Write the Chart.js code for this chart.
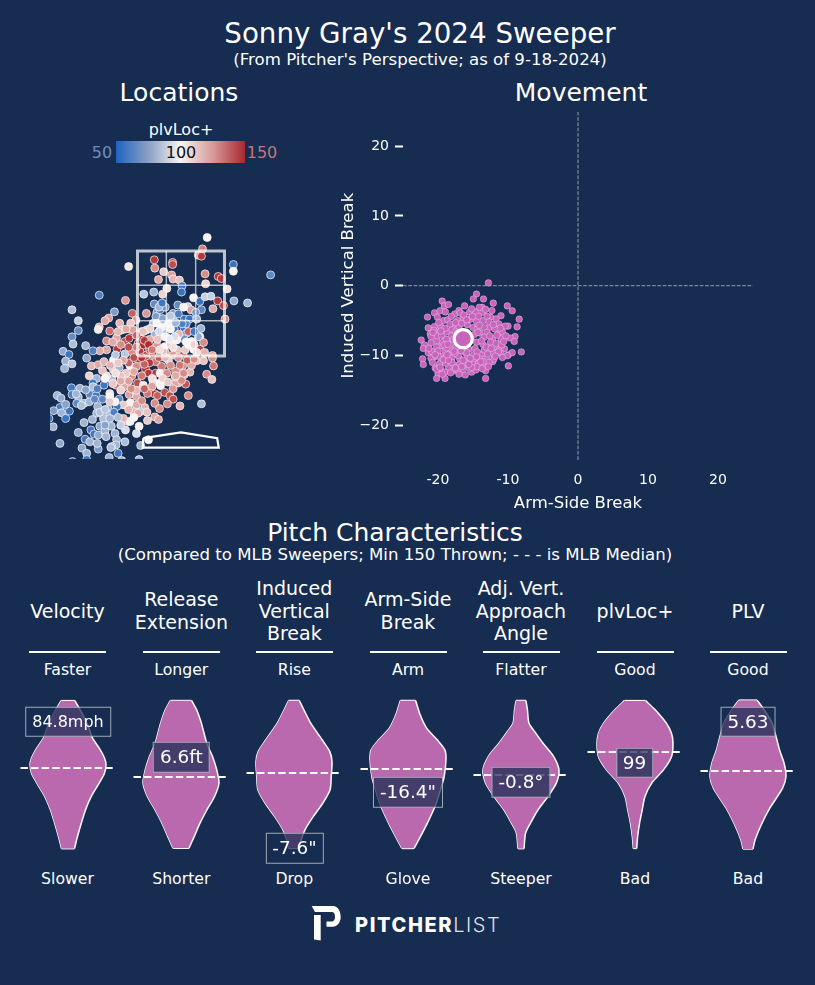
<!DOCTYPE html>
<html><head><meta charset="utf-8">
<script src="https://cdn.jsdelivr.net/npm/chart.js@4"></script>
<style>
html,body{margin:0;padding:0;background:#162c50;width:815px;height:985px;overflow:hidden;font-family:"DejaVu Sans",sans-serif;color:#fff}
.t{position:absolute;transform:translate(-50%,-50%);white-space:nowrap;text-align:center;line-height:1.2}
canvas{position:absolute}
.box{position:absolute;transform:translate(-50%,-50%);box-sizing:border-box;height:30.5px;line-height:27px;padding:0 6px;border:1.5px solid rgba(255,255,255,.6);background:rgba(22,44,80,.72);white-space:nowrap;text-align:center;font-size:18.4px}
.rule{position:absolute;height:2px;background:#fff;width:77px}
</style></head><body>
<div class="t" style="left:420px;top:33.500px;font-size:27.7px">Sonny Gray's 2024 Sweeper</div>
<div class="t" style="left:420px;top:60px;font-size:16.6px">(From Pitcher's Perspective; as of 9-18-2024)</div>
<div class="t" style="left:179px;top:93px;font-size:25px">Locations</div>
<div class="t" style="left:581px;top:93px;font-size:25px">Movement</div>
<div class="t" style="left:181px;top:129.500px;font-size:16px">plvLoc+</div>
<div style="position:absolute;left:116px;top:141px;width:129px;height:22px;background:linear-gradient(90deg,#1e64c0 0%,#8aa0c4 25%,#f7f3f3 50%,#d89a9a 75%,#a8282e 100%)"></div>
<div class="t" style="left:102px;top:152.500px;font-size:16px;color:#6f8fbd">50</div>
<div class="t" style="left:181px;top:152.500px;font-size:16px;color:#111">100</div>
<div class="t" style="left:262px;top:152.500px;font-size:16px;color:#c07878">150</div>
<div class="t" style="left:395px;top:533px;font-size:25px">Pitch Characteristics</div>
<div class="t" style="left:395px;top:555px;font-size:16.6px">(Compared to MLB Sweepers; Min 150 Thrown; - - - is MLB Median)</div>
<canvas id="loc" width="262" height="350" style="left:50px;top:109px"></canvas>
<canvas id="mov" width="440" height="419" style="left:330px;top:97px"></canvas>
<svg style="position:absolute;left:310px;top:903px" width="34" height="40" viewBox="0 0 34 40"><path fill="#fff" d="M1.700 3H23C28 3 30.700 8.500 30.700 14C30.700 19.500 27 23.700 23 23.700H16.500V18.500H22C24 18.500 25 16 25 14C25 11 24 9 22 9H5Z"/><path fill="#fff" d="M4 12H10.700V37.500L4 36.500Z"/></svg>
<div style="position:absolute;left:355px;top:912px;font-family:Inter,sans-serif;font-size:20px;line-height:26px;white-space:nowrap"><span style="font-weight:800;letter-spacing:1.6px">PITCHER</span><span style="font-weight:300;color:#e0e4ea;letter-spacing:1.6px">LIST</span></div>
<script>
const locX=[.50,.41,.33,.39,-.51,-.50,-.16,-.16,-1.0,1.0,1.0,1.71,-.33,-.18,.46,.71,.77,-.43,-.15,-.03,.02,.01,.47,-.27,.88,-.52,-.71,-.35,-1.56,-1.06,-.51,-.06,.24,.36,.46,.57,.70,.81,1.01,1.27,.61,.39,.13,.19,.84,-2.08,-1.96,-1.96,-2.08,-2.06,-2.25,
-1.27,-1.38,-1.45,-1.56,-1.58,-.93,-.66,-.86,-.46,-.40,-.48,-.53,-.15,-.15,.06,.16,.30,-.05,-.27,-.13,.06,.11,.06,.38,.36,.33,.14,-.04,-.34,-.27,-.50,-1.36,-1.17,-1.13,-.96,-.96,-1.42,-1.23,-1.07,-.99,-.78,-.82,-.72,-1.22,-1.42,-1.55,-1.68,-1.82,-2.14,-2.20,-2.08,-2.22,-1.80,-1.07,-.94,-.78,-.66,-.53,-.46,-.66,-.59,-.75,-.91,-.31,-.31,-.21,-.08,-.15,.04,.08,.24,.36,.43,.20,-.08,-.37,-.24,-.46,
-1.71,-1.58,-1.47,-1.29,-1.29,-1.18,-.97,-.82,-.67,-.48,-.24,-.37,-.68,-.62,-.48,-.40,-.27,-.10,.03,.17,.06,.30,.43,.60,.60,.62,.49,.59,.09,-.05,-.10,.01,-.11,-1.75,-1.61,-1.47,-1.68,-2.09,-1.93,-2.08,-2.36,-2.29,-1.96,-1.74,-1.62,-1.82,-1.68,-1.36,-1.32,-1.24,-1.08,-1.10,-.94,-.83,-.72,-.53,-.40,-.39,-.59,-.50,-.64,-.31,-.21,-.15,.14,-.02,-.26,-.50,-.41,.39,-1.18,-.99,-1.36,-.85,-.97,-.69,-.85,-1.10,-1.22,-1.26,-1.36,
-1.99,-1.85,-1.90,-2.31,-2.13,-2.43,-2.28,-2.20,-2.44,-2.52,-1.59,-1.61,-1.39,-1.36,-1.28,-1.69,-1.48,-1.36,-1.33,-1.55,-1.01,-.97,-.78,-.91,-.82,-.64,-.50,-.43,-1.10,-.80,-1.06,-.85,-1.96,-1.72,-1.66,-1.83,-1.74,-1.58,-1.45,-1.43,-1.26,-1.23,-1.24,-1.07,-2.31,-1.89,-1.80,-1.80,-1.58,-1.32,-1.34,-1.20,-1.37,-1.13,-2.07,-.80,-.77,-.62,
-.6,-.7,-.85,-.9,-1.05,-.75,-.55,-.35,-.25,-1.15,-1.0,-.6,-.85,-1.15,-1.0,-.45,-.15,-.05,.2,.05,-.15,-.85,-1.15,-1.25,-1.42,-1.5,-.6,-.2,-.12,.25,.1,-.2,.15,.3,-.3,-.42,-.72,-1.0,-1.25,-1.6,-1.5,-1.75,-1.55,-1.45,
-1.3,-1.2,-1.05,-.85,-.7,-.62,-.55,-.4,-.3,-.2,-.1,-.75,-.9,-1.1,-1.2,-1.35,-1.45,-1.3,-1.15,-.95,-.7,-.55,-.45,-.75,-1.0,-.65,-.9,-1.2,-1.45,-1.65,-2.0,-2.2,-1.85,-1.6,-1.15,.1,.25,.45,.12,-.02,.25,.02,-.1,-.35,-.42,-.22,.28,.05,-.3,-.42,-.36];
const locZ=[3.76,3.54,3.42,3.40,3.33,3.17,3.28,3.24,3.20,3.24,3.11,3.04,3.10,3.04,3.06,3.01,2.97,2.95,2.96,2.94,2.83,2.71,2.87,2.78,2.77,2.71,2.67,2.67,2.65,2.55,2.48,2.46,2.60,2.53,2.62,2.63,2.54,2.45,2.54,2.50,2.39,2.37,2.43,2.37,2.19,2.37,2.16,1.97,1.85,1.71,1.57,
2.33,2.21,2.16,2.04,1.99,2.30,2.30,2.17,2.32,2.37,2.24,2.11,2.30,2.19,2.19,2.19,2.19,2.29,2.04,2.0,2.01,1.92,1.81,2.01,1.85,1.85,1.95,1.90,1.93,1.84,1.90,1.96,2.11,1.98,2.11,1.99,1.77,1.83,1.76,1.82,1.82,1.72,1.69,1.61,1.60,1.58,1.58,1.68,1.51,1.38,1.33,1.24,1.44,1.52,1.56,1.56,1.50,1.50,1.68,1.98,2.01,1.95,1.98,1.85,1.66,1.72,1.60,1.50,1.50,1.60,1.61,1.61,1.74,1.76,1.79,2.04,2.11,2.11,
1.29,1.31,1.37,1.40,1.22,1.26,1.29,1.42,1.42,1.37,1.40,1.28,1.24,1.15,1.15,1.15,1.15,1.19,1.29,1.17,1.12,1.39,1.39,1.49,1.44,1.29,1.13,1.03,.94,.96,.96,1.01,1.08,1.10,1.05,.92,.96,.87,.86,.74,.72,.67,.69,.74,.72,.83,.89,.76,1.03,.92,.89,1.03,1.10,.96,.92,.99,.96,.91,.81,.75,.76,.78,.72,.65,.72,.52,.56,.57,.47,.56,.65,.74,.70,.70,.58,.49,.54,.54,.51,.60,.60,
.57,.57,.53,.49,.42,.43,.39,.28,.12,.28,.51,.38,.46,.35,.40,.26,.28,.28,.13,.13,.22,.22,.41,.41,.38,.24,.31,.26,.28,.13,.06,-.01,.01,.06,-.02,-.12,-.17,-.04,.04,-.07,-.01,-.13,-.23,-.17,-.20,-.29,-.39,-.51,-.31,-.26,-.28,-.39,-.47,-.53,-.55,-.51,-.24,-.13,
1.35,1.32,1.28,1.18,1.15,1.1,1.05,1.05,.98,1.1,1.0,1.6,1.65,1.7,1.65,1.8,1.65,1.45,1.3,1.15,.85,.82,.82,1.15,1.1,1.2,1.8,2.0,1.85,1.95,2.1,2.25,1.7,1.55,1.55,1.45,1.95,1.35,1.5,.85,.65,.6,.4,.15,
1.75,1.95,2.0,1.88,1.78,1.7,1.6,1.6,1.45,1.3,1.1,1.45,1.45,1.4,1.35,1.3,1.05,.95,1.0,.85,.85,.9,.72,.62,.45,.4,.3,.3,.45,.65,.75,.55,.2,-.2,.15,1.75,1.7,1.55,1.4,1.3,1.42,2.1,2.12,2.2,1.95,1.8,2.32,2.42,2.42,2.42,2.5];
const locPlv=[100,128,118,145,145,125,140,140,103,58,100,70,110,120,125,145,145,118,115,112,60,58,108,105,105,85,90,108,65,122,72,70,100,58,92,92,145,142,82,85,118,70,92,120,125,88,92,72,72,88,82,
78,120,118,115,102,135,122,120,78,60,78,88,78,85,58,58,85,65,58,60,60,60,75,85,100,82,135,115,85,90,85,132,115,112,110,122,125,118,140,145,148,145,148,145,118,118,65,85,60,85,90,85,82,90,125,145,140,140,122,110,108,115,120,100,100,110,112,120,140,110,100,142,125,100,100,100,100,100,
115,118,115,100,110,85,100,145,140,130,110,130,148,145,145,100,125,125,125,115,118,112,112,118,125,130,125,112,138,118,118,125,120,108,85,60,60,62,85,65,85,82,85,70,60,80,88,105,88,130,118,115,125,140,102,108,100,100,145,145,130,140,140,140,125,115,125,125,125,88,70,120,100,118,100,115,118,110,60,100,110,
70,85,88,62,60,78,85,60,85,60,85,85,82,85,65,85,88,85,85,82,115,100,90,115,118,110,118,118,115,100,95,95,82,62,60,62,85,82,85,85,85,85,85,88,82,82,85,60,78,82,88,60,85,85,60,85,85,100,
145,135,125,118,110,130,105,108,110,112,120,135,130,125,140,112,105,125,118,125,122,115,108,105,105,112,118,100,95,60,70,90,100,105,118,138,112,135,90,65,70,85,88,80,
118,115,118,135,145,148,130,105,115,125,118,148,140,118,110,115,100,110,118,125,135,120,135,125,115,112,100,88,90,70,85,80,85,85,92,100,108,115,135,130,125,65,85,80,95,98,78,100,75,85,60];
const zoneBoxX=[-.83,.83,.83,-.83,-.83];
const zoneBoxZ=[1.48,1.48,3.5,3.5,1.48];
const zoneGridX=[-.28,-.28,null,.28,.28,null,-.83,.83,null,-.83,.83];
const zoneGridZ=[1.48,3.5,null,1.48,3.5,null,2.84,2.84,null,2.16,2.16];
const plateX=[-.72,0,.69,.72,-.73,-.72];
const plateZ=[-.10,.01,-.10,-.28,-.28,-.10];

const moveX=[-12.8,-14.5,-14.95,-13.5,-12.1,-19.4,-19.1,-18.5,-16.2,-10.1,-9.4,-13.7,-20.5,-21.5,-19.7,-18.95,-17.6,-17,-15.5,-14.6,-13.6,-12.3,-11,-8.4,-11.7,-12.5,-13.5,-14.5,-15.8,-16.4,-17.8,-19.2,-20.1,-21.4,-20.5,-19.6,-21.1,-21,-18.7,-20,-19,-20.2,-22.4,-21.95,-22.1,-21.4,-20.9,-19.5,-20.2,-18.3,-19,-20.5,-19.3,-22.2,-22.1,-20.4,-19.5,-19.7,-18.5,-17.6,-17.8,-20,-20.2,-19,-16.1,-15.2,-14.6,-15.8,-15,-16.9,-16.1,-17.6,-13.8,-12.8,-11.95,-11.5,-10.5,-9.95,-9.4,-8.1,-10.1,-12.2,-13.3,-13.2,-13.2,-9.95,-8.7,-10,-10.4,-11.4,-12.2,-12.7,-13.4,-14,-9,-9.7,-9.1,
-16.8,-15.2,-14.1,-13,-18.6,-17.2,-15.4,-14.2,-12.7,-11.3,-20.6,-19,-18,-17,-15,-14.4,-13,-11.9,-10.8,-20.1,-19.5,-18.1,-17.5,-14.8,-13.4,-12.6,-11,-10.3,-21,-19.3,-18.4,-17.9,-14.5,-13.6,-12.5,-11.7,-10.9,-21.3,-20,-18.8,-17.9,-16.5,-15.6,-14.7,-13.4,-12.2,-11,-21,-20,-18.9,-18,-17.1,-15.8,-14.9,-14,-13,-12,-10.8,-20.8,-19.8,-18.9,-18,-16.9,-16.1,-15,-14.2,-13.5,-20.2,-19,-18.2,-17.2,-16.4,-15.5,-14.4,-19.4,-17,
-18.1,-16.3,-15.1,-13.2,-19.9,-18.3,-17.5,-16.6,-15.9,-14.1,-12.1,-11.1,-19.6,-18.8,-17.2,-14.3,-13.8,-11.6,-10.6,-20.7,-19.1,-17.8,-15.3,-13.1,-12.4,-11.3,-18.6,-17.4,-15.9,-14.4,-12.9,-11.4,-20.4,-19.2,-17.6,-16.7,-15.4,-13.9,-12.7,-11.8,-19.7,-18.5,-17.5,-16.4,-15.2,-13.7,-12.8,-18.7,-17.7,-16.6,-15.6,-14.5];
const moveY=[.4,-1.2,-1.9,-1.9,-2.5,-2.2,-2.9,-2.7,-2.9,-2.9,-3.6,-3.1,-3.9,-4.5,-3.6,-3.76,-4.05,-3.57,-3.8,-3.76,-3.8,-3.57,-4.3,-4.8,-4.76,-4.5,-5,-5.15,-5.6,-4.6,-5.6,-5,-4.5,-6.05,-5.86,-5.86,-6.9,-7.3,-6.6,-6.7,-7.6,-7.9,-7.8,-8.5,-9,-9.6,-9.4,-8.6,-8.8,-9.8,-9.3,-10.2,-10.1,-10.5,-11.3,-11.8,-10.7,-11.9,-11.8,-11.4,-12.2,-12.6,-13.3,-13.3,-12.8,-12.4,-12.1,-11.3,-10.7,-10.5,-9.6,-9.3,-9.8,-8.8,-9.9,-9.05,-9.05,-9.9,-9.6,-9.5,-10.05,-10.9,-11.7,-12.2,-13.3,-11.5,-5.9,-5.8,-5.8,-7,-7.6,-6,-6,-6.8,-7.3,-7.5,-8,
-3.9,-3.3,-3.1,-4.4,-4.9,-5,-4.8,-4.4,-5.2,-5.5,-6.4,-6.1,-6.3,-5.9,-6,-6.2,-6.7,-6.2,-6.6,-7.2,-7.1,-7.2,-6.6,-7,-7.4,-7.2,-7.6,-7.2,-8.2,-8.1,-8,-8.3,-8.1,-8.4,-8.1,-8.3,-8.5,-9,-9.4,-8.9,-9.2,-8.8,-9.1,-9,-9.2,-9.6,-9.7,-10.4,-10.1,-10.3,-10.4,-10,-10.1,-9.9,-10.5,-10.3,-10.5,-10.3,-11,-11.2,-11.1,-11,-11.3,-11,-11.3,-11.1,-10.9,-12,-12.4,-12.5,-12.1,-12,-11.9,-11.6,-12.7,-12.7,
-4.4,-4.2,-4.4,-3.4,-5.3,-5.5,-5.3,-5.4,-4.9,-5.7,-5.6,-6.1,-6.5,-7.7,-6.8,-6.7,-7.9,-7.1,-8,-6.7,-8.5,-7.7,-7.6,-8.8,-9,-9.3,-8.4,-8.8,-9.6,-9.5,-9.8,-9.5,-9.9,-10.6,-9.7,-9.3,-10.4,-10.9,-11,-10.1,-11.7,-10.7,-11.8,-10.7,-11.7,-11.9,-11.6,-9.9,-9.4,-11.6,-11.3,-10.2];
const moveMeanX=[-16.4];
const moveMeanY=[-7.6];
const moveTicksX=[-20,-10,0,10,20];
const moveTicksY=[-20,-10,0,10,20];
const zeroSpan=[-25,25];

const metricNames=[["Velocity"],["Release","Extension"],["Induced","Vertical","Break"],["Arm-Side","Break"],["Adj. Vert.","Approach","Angle"],["plvLoc+"],["PLV"]];
const upLabels=["Faster","Longer","Rise","Arm","Flatter","Good","Good"];
const downLabels=["Slower","Shorter","Drop","Glove","Steeper","Bad","Bad"];
const pitchLabels=["84.8mph","6.6ft","-7.6\"","-16.4\"","-0.8°","99","5.63"];
const pitchValues=[84.8,6.6,-7.6,-16.4,-0.8,99,5.63];
const leagueMedians=[82.0,6.30,0.5,-13.0,-0.6,102,5.0];
const veloValues=[86.1,85.54,84.73,83.85,83.1,82.6,82.19,81.68,81.07,80.25,79.44,78.63,77.82,77.08];
const veloDensity=[.18,.32,.5,.64,.85,.96,1,.96,.82,.61,.46,.35,.25,.17];
const extValues=[7.46,7.31,7.11,6.81,6.61,6.41,6.21,6.0,5.8,5.6,5.4,5.22];
const extDensity=[.28,.42,.54,.68,.83,.94,1,.88,.68,.5,.35,.21];
const ivbValues=[8.33,7.32,5.88,4.09,2.83,1.75,.13,-1.31,-2.75,-4.19,-5.63,-6.71,-7.64];
const ivbDensity=[.14,.26,.44,.74,.94,1,.98,.95,.76,.51,.29,.19,.14];
const armValues=[-2.94,-5.05,-7.01,-8.73,-10.2,-11.67,-14.2,-15.59,-18.28,-20.98,-22.94,-24.7];
const armDensity=[.2,.32,.49,.77,.97,1,.95,.88,.73,.51,.33,.16];
const vaaValues=[1.53,1.26,.88,.64,.31,-.07,-.45,-.83,-1.21,-1.59,-1.97,-2.26,-2.7];
const vaaDensity=[.13,.17,.21,.36,.58,.86,1,.93,.71,.45,.25,.12,.08];
const locPlusValues=[116,113.5,109.8,107.1,104.4,100.7,97.1,93.5,89.8,86.2,82.6,78.9,75.7];
const locPlusDensity=[.28,.53,.83,.96,1,.96,.75,.44,.26,.19,.12,.07,.045];
const plvValues=[5.91,5.79,5.62,5.42,5.27,5.1,4.93,4.78,4.52,4.31,4.12,4.0];
const plvDensity=[.24,.42,.63,.75,.83,.95,1,.91,.57,.35,.19,.13];
const violinValues=[veloValues,extValues,ivbValues,armValues,vaaValues,locPlusValues,plvValues];
const violinDensity=[veloDensity,extDensity,ivbDensity,armDensity,vaaDensity,locPlusDensity,plvDensity];
const axisTop=[86.75,7.62,9.46,-1.4,1.83,118.9,6.04];
const axisBottom=[75.78,4.89,-9.97,-27.87,-3.31,69.8,3.73];
const columnCenters=[67.5,181.3,294.3,408,521,635,748];
const boxCenters=[68,181.3,294.5,408,521,634.5,748];

Chart.defaults.font.family='"DejaVu Sans",sans-serif';
Chart.defaults.animation=false;
const noPlugins={legend:{display:false},tooltip:{enabled:false}};

const colorStops=[[50,[30,100,192]],[75,[110,145,195]],[90,[185,198,222]],[100,[247,243,243]],[125,[215,140,135]],[150,[168,36,42]]];
function plvColor(v){
  v=Math.max(50,Math.min(150,v));
  for(let k=1;k<colorStops.length;k++){
    if(v<=colorStops[k][0]){
      const t=(v-colorStops[k-1][0])/(colorStops[k][0]-colorStops[k-1][0]);
      const a=colorStops[k-1][1],b=colorStops[k][1];
      return `rgb(${a.map((c,i)=>Math.round(c+(b[i]-c)*t)).join(',')})`;
    }
  }
}
function xy(xs,ys){return xs.map((x,i)=>({x:x,y:ys[i]}));}

new Chart(document.getElementById('loc'),{type:'scatter',data:{datasets:[
  {data:xy(zoneBoxX,zoneBoxZ),showLine:true,pointRadius:0,borderColor:'rgba(255,255,255,.72)',borderWidth:3,order:0,clip:0},
  {data:xy(zoneGridX,zoneGridZ),showLine:true,spanGaps:false,pointRadius:0,borderColor:'rgba(255,255,255,.65)',borderWidth:1.5,order:0,clip:0},
  {data:xy(plateX,plateZ),showLine:true,pointRadius:0,borderColor:'#fff',borderWidth:2.2,order:0,clip:0},
  {data:xy(locX,locZ),pointRadius:4,pointBorderWidth:.8,pointBackgroundColor:locPlv.map(plvColor),pointBorderColor:'rgba(255,255,255,.85)',order:1,clip:0}
]},options:{responsive:false,layout:{padding:0,autoPadding:false},plugins:noPlugins,scales:{
  x:{type:'linear',display:false,min:-2.5,max:2.5},
  y:{type:'linear',display:false,min:-.5,max:6.23}
}}});

new Chart(document.getElementById('mov'),{type:'scatter',data:{datasets:[
  {data:xy(moveMeanX,moveMeanY),pointRadius:9,pointBorderWidth:3.2,pointBackgroundColor:'#c864bc',pointBorderColor:'#fff',order:0},
  {data:xy(moveX,moveY),pointRadius:3.3,pointBorderWidth:.7,pointBackgroundColor:'#c864bc',pointBorderColor:'rgba(255,255,255,.45)',order:1},
  {data:xy(zeroSpan,[0,0]),showLine:true,pointRadius:0,borderColor:'rgba(255,255,255,.55)',borderWidth:1,borderDash:[3.7,1.6],order:2},
  {data:xy([0,0],zeroSpan),showLine:true,pointRadius:0,borderColor:'rgba(255,255,255,.55)',borderWidth:1,borderDash:[3.7,1.6],order:2}
]},options:{responsive:false,layout:{autoPadding:false,padding:{top:6.5,right:17,left:0,bottom:0}},plugins:noPlugins,scales:{
  x:{type:'linear',min:-25,max:25,grid:{display:false},border:{display:false},
     afterBuildTicks:s=>{s.ticks=moveTicksX.map(v=>({value:v}));},afterFit:s=>{s.height=56;},
     ticks:{color:'#fff',font:{size:14},padding:4,maxRotation:0,callback:v=>String(v)},
     title:{display:true,text:'Arm-Side Break',color:'#fff',font:{size:16.5},padding:{top:2,bottom:2}}},
  y:{type:'linear',min:-25,max:25,border:{display:false},
     grid:{drawOnChartArea:false,drawTicks:true,tickColor:'#fff',tickWidth:2,tickLength:8},
     afterBuildTicks:s=>{s.ticks=moveTicksY.map(v=>({value:v}));},afterFit:s=>{s.width=73;},
     ticks:{color:'#fff',font:{size:14},padding:6,callback:v=>String(v).replace('-','\u2212')},
     title:{display:true,text:'Induced Vertical Break',color:'#fff',font:{size:16.5},padding:{top:9,bottom:0}}}
}}});

metricNames.forEach((lines,i)=>{
  const cx=columnCenters[i];
  const head=document.createElement('div');head.className='t';
  head.style.cssText=`left:${cx}px;top:611px;font-size:19px;line-height:22.6px`;
  head.innerHTML=lines.join('<br>');document.body.appendChild(head);
  const rule=document.createElement('div');rule.className='rule';
  rule.style.left=(cx-38.5)+'px';rule.style.top='651px';document.body.appendChild(rule);
  const up=document.createElement('div');up.className='t';
  up.style.cssText=`left:${cx}px;top:669.5px;font-size:15.7px`;up.textContent=upLabels[i];document.body.appendChild(up);
  const dn=document.createElement('div');dn.className='t';
  dn.style.cssText=`left:${cx}px;top:878.5px;font-size:15.7px`;dn.textContent=downLabels[i];document.body.appendChild(dn);

  const cv=document.createElement('canvas');cv.width=114;cv.height=180;
  cv.style.left=(cx-57)+'px';cv.style.top='690px';document.body.appendChild(cv);
  const vals=violinValues[i].slice().reverse(),dens=violinDensity[i].slice().reverse();
  const right=vals.map((v,k)=>({x:dens[k],y:v})),left=vals.map((v,k)=>({x:-dens[k],y:v}));
  const n=vals.length-1;
  const edge={borderColor:'#fff',borderWidth:1.5,pointRadius:0,tension:.25,order:2};
  const chart=new Chart(cv,{type:'line',data:{datasets:[
    Object.assign({data:right,fill:'+1',backgroundColor:'#ba69af'},edge),
    Object.assign({data:left,fill:false},edge),
    {data:[{x:-dens[n],y:vals[n]},{x:dens[n],y:vals[n]}],borderColor:'#fff',borderWidth:1.5,pointRadius:0,order:2},
    {data:[{x:-dens[0],y:vals[0]},{x:dens[0],y:vals[0]}],borderColor:'#fff',borderWidth:1.5,pointRadius:0,order:2},
    {data:[{x:-1.25,y:leagueMedians[i]},{x:1.25,y:leagueMedians[i]}],borderColor:'#fff',borderWidth:2,borderDash:[7.4,3.2],pointRadius:0,order:0}
  ]},options:{indexAxis:'y',responsive:false,layout:{padding:0,autoPadding:false},plugins:noPlugins,scales:{
    x:{type:'linear',display:false,min:-1.5,max:1.5},
    y:{type:'linear',display:false,min:axisBottom[i],max:axisTop[i]}
  }}});
  const box=document.createElement('div');box.className='box';
  box.style.left=boxCenters[i]+'px';
  box.style.top=(690+chart.scales.y.getPixelForValue(pitchValues[i]))+'px';
  if(pitchLabels[i].length>6)box.style.fontSize='16px';
  box.textContent=pitchLabels[i];document.body.appendChild(box);
});
</script>
</body></html>
